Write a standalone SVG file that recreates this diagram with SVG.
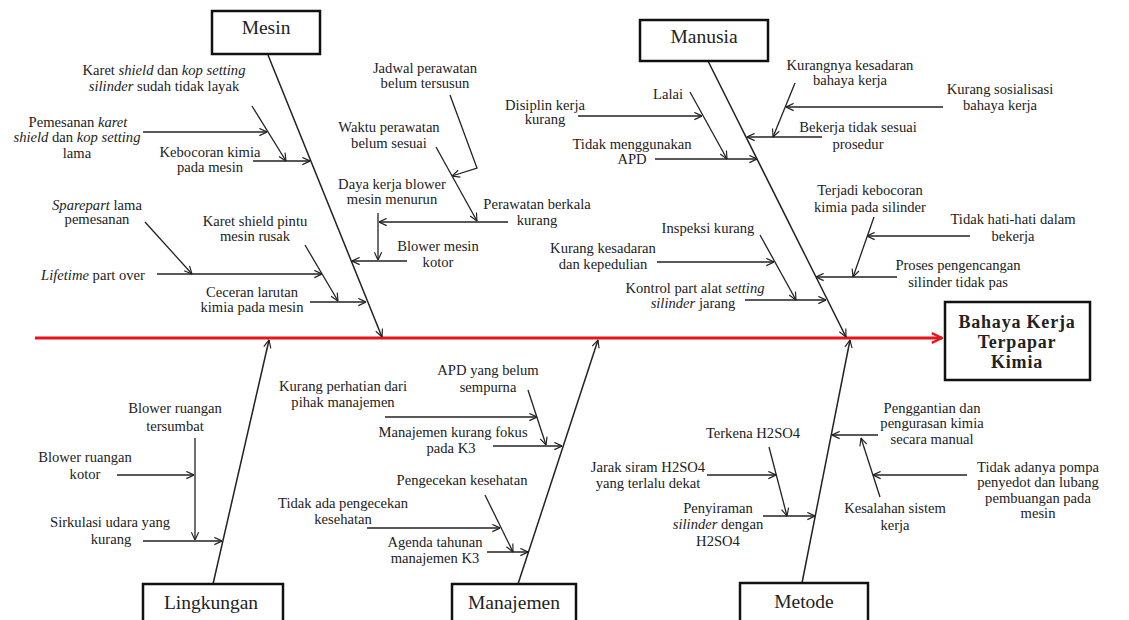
<svg xmlns="http://www.w3.org/2000/svg" width="1129" height="620" viewBox="0 0 1129 620">
<style>
text{font-family:"Liberation Serif","Times New Roman",serif;font-size:14.6px;fill:#222;text-anchor:middle}
.t{font-size:19.5px}
.e{font-size:18px;font-weight:bold;letter-spacing:0.8px}
.box{fill:#fff;stroke:#111;stroke-width:2.5}
.ln{fill:none;stroke:#222;stroke-width:1.3}
.bone{fill:none;stroke:#222;stroke-width:1.5}
</style>
<defs>
<marker id="a" viewBox="0 0 10 10" refX="9.5" refY="5" markerWidth="9" markerHeight="9" markerUnits="userSpaceOnUse" orient="auto"><path d="M1,1 L9.5,5 L1,9" fill="none" stroke="#222" stroke-width="1.3"/></marker>
<marker id="r" viewBox="0 0 10 10" refX="9.5" refY="5" markerWidth="12" markerHeight="12" markerUnits="userSpaceOnUse" orient="auto"><path d="M1,1 L9.5,5 L1,9" fill="none" stroke="#e8141c" stroke-width="2"/></marker>
</defs>
<rect width="1129" height="620" fill="#fff"/>

<g id="connectors">
<line x1="35" y1="338" x2="942" y2="338" stroke="#e8141c" stroke-width="2.8" marker-end="url(#r)"/>
<line class="bone" x1="268" y1="55" x2="382" y2="337" marker-end="url(#a)"/>
<line class="bone" x1="708" y1="61" x2="846" y2="337" marker-end="url(#a)"/>
<line class="bone" x1="213" y1="584" x2="269" y2="340" marker-end="url(#a)"/>
<line class="bone" x1="518" y1="584" x2="598" y2="340" marker-end="url(#a)"/>
<line class="bone" x1="802" y1="583" x2="850" y2="340" marker-end="url(#a)"/>
<line class="ln" x1="252" y1="106" x2="286" y2="161" marker-end="url(#a)"/>
<line class="ln" x1="143" y1="132" x2="267" y2="132" marker-end="url(#a)"/>
<line class="ln" x1="253" y1="161" x2="310" y2="161" marker-end="url(#a)"/>
<polyline class="ln" points="450,95 477,168 452,176" marker-end="url(#a)"/>
<line class="ln" x1="436" y1="147" x2="477" y2="221" marker-end="url(#a)"/>
<line class="ln" x1="508" y1="222" x2="379" y2="222" marker-end="url(#a)"/>
<line class="ln" x1="378" y1="213" x2="378" y2="260" marker-end="url(#a)"/>
<line class="ln" x1="407" y1="261" x2="352" y2="261" marker-end="url(#a)"/>
<line class="ln" x1="145" y1="222" x2="192" y2="274" marker-end="url(#a)"/>
<line class="ln" x1="157" y1="274" x2="322" y2="274" marker-end="url(#a)"/>
<line class="ln" x1="305" y1="245" x2="338" y2="301" marker-end="url(#a)"/>
<line class="ln" x1="310" y1="302" x2="366" y2="302" marker-end="url(#a)"/>
<line class="ln" x1="690" y1="92" x2="727" y2="159" marker-end="url(#a)"/>
<line class="ln" x1="578" y1="116" x2="702" y2="116" marker-end="url(#a)"/>
<line class="ln" x1="655" y1="159" x2="757" y2="159" marker-end="url(#a)"/>
<line class="ln" x1="795" y1="83" x2="773" y2="137" marker-end="url(#a)"/>
<line class="ln" x1="943" y1="107" x2="786" y2="107" marker-end="url(#a)"/>
<line class="ln" x1="822" y1="137" x2="747" y2="137" marker-end="url(#a)"/>
<line class="ln" x1="760" y1="235" x2="796" y2="300" marker-end="url(#a)"/>
<line class="ln" x1="657" y1="262" x2="774" y2="262" marker-end="url(#a)"/>
<line class="ln" x1="745" y1="300" x2="826" y2="300" marker-end="url(#a)"/>
<line class="ln" x1="874" y1="217" x2="853" y2="277" marker-end="url(#a)"/>
<line class="ln" x1="970" y1="236" x2="867" y2="236" marker-end="url(#a)"/>
<line class="ln" x1="897" y1="277" x2="816" y2="277" marker-end="url(#a)"/>
<line class="ln" x1="195" y1="438" x2="195" y2="540" marker-end="url(#a)"/>
<line class="ln" x1="117" y1="475" x2="194" y2="475" marker-end="url(#a)"/>
<line class="ln" x1="143" y1="541" x2="222" y2="541" marker-end="url(#a)"/>
<line class="ln" x1="528" y1="390" x2="546" y2="445" marker-end="url(#a)"/>
<line class="ln" x1="385" y1="417" x2="537" y2="417" marker-end="url(#a)"/>
<line class="ln" x1="493" y1="446" x2="562" y2="446" marker-end="url(#a)"/>
<line class="ln" x1="485" y1="495" x2="513" y2="552" marker-end="url(#a)"/>
<line class="ln" x1="367" y1="528" x2="500" y2="528" marker-end="url(#a)"/>
<line class="ln" x1="487" y1="552" x2="528" y2="552" marker-end="url(#a)"/>
<line class="ln" x1="769" y1="447" x2="787" y2="516" marker-end="url(#a)"/>
<line class="ln" x1="707" y1="475" x2="776" y2="475" marker-end="url(#a)"/>
<line class="ln" x1="763" y1="516" x2="815" y2="516" marker-end="url(#a)"/>
<line class="ln" x1="878" y1="435" x2="832" y2="435" marker-end="url(#a)"/>
<line class="ln" x1="880" y1="497" x2="861" y2="438" marker-end="url(#a)"/>
<line class="ln" x1="967" y1="475" x2="873" y2="475" marker-end="url(#a)"/>
</g>

<g id="effect"><rect class="box" x="945" y="302" width="145" height="78"/>
<text class="e" x="1017" y="328">Bahaya Kerja</text><text class="e" x="1017" y="348">Terpapar</text><text class="e" x="1017" y="368">Kimia</text></g>
<g id="mesin"><rect class="box" x="212" y="11" width="108" height="43"/><text class="t" x="266" y="34">Mesin</text></g>
<g id="manusia"><rect class="box" x="640" y="20" width="128" height="41"/><text class="t" x="704" y="43">Manusia</text></g>
<g id="lingkungan"><rect class="box" x="143" y="584" width="140" height="42"/><text class="t" x="211" y="609">Lingkungan</text></g>
<g id="manajemen"><rect class="box" x="452" y="584" width="124" height="42"/><text class="t" x="514" y="609">Manajemen</text></g>
<g id="metode"><rect class="box" x="740" y="583" width="128" height="43"/><text class="t" x="804" y="608">Metode</text></g>

<g id="mesin-causes">
<text x="164" y="75">Karet <tspan font-style="italic">shield</tspan> dan <tspan font-style="italic">kop setting</tspan></text>
<text x="164" y="91"><tspan font-style="italic">silinder</tspan> sudah tidak layak</text>
<text x="78" y="127">Pemesanan <tspan font-style="italic">karet</tspan></text>
<text x="77" y="142"><tspan font-style="italic">shield</tspan> dan <tspan font-style="italic">kop setting</tspan></text>
<text x="77" y="158">lama</text>
<text x="210" y="157">Kebocoran kimia</text><text x="210" y="172">pada mesin</text>
<text x="425" y="73">Jadwal perawatan</text><text x="425" y="88">belum tersusun</text>
<text x="389" y="132">Waktu perawatan</text><text x="389" y="148">belum sesuai</text>
<text x="392" y="189">Daya kerja blower</text><text x="392" y="204">mesin menurun</text>
<text x="537" y="209">Perawatan berkala</text><text x="537" y="225">kurang</text>
<text x="438" y="251">Blower mesin</text><text x="438" y="267">kotor</text>
<text x="97" y="210"><tspan font-style="italic">Sparepart</tspan> lama</text><text x="97" y="224">pemesanan</text>
<text x="93" y="280"><tspan font-style="italic">Lifetime</tspan> part over</text>
<text x="255" y="226">Karet shield pintu</text><text x="255" y="241">mesin rusak</text>
<text x="252" y="297">Ceceran larutan</text><text x="252" y="312">kimia pada mesin</text>
</g>
<g id="manusia-causes">
<text x="668" y="99">Lalai</text>
<text x="545" y="110">Disiplin kerja</text><text x="545" y="124">kurang</text>
<text x="632" y="149">Tidak menggunakan</text><text x="632" y="164">APD</text>
<text x="850" y="70">Kurangnya kesadaran</text><text x="850" y="85">bahaya kerja</text>
<text x="1000" y="94">Kurang sosialisasi</text><text x="1000" y="110">bahaya kerja</text>
<text x="858" y="132">Bekerja tidak sesuai</text><text x="858" y="149">prosedur</text>
<text x="708" y="233">Inspeksi kurang</text>
<text x="603" y="253">Kurang kesadaran</text><text x="603" y="269">dan kepedulian</text>
<text x="695" y="293">Kontrol part alat <tspan font-style="italic">setting</tspan></text><text x="693" y="308"><tspan font-style="italic">silinder</tspan> jarang</text>
<text x="870" y="195">Terjadi kebocoran</text><text x="870" y="212">kimia pada silinder</text>
<text x="1013" y="224">Tidak hati-hati dalam</text><text x="1013" y="241">bekerja</text>
<text x="958" y="270">Proses pengencangan</text><text x="958" y="287">silinder tidak pas</text>
</g>
<g id="lingkungan-causes">
<text x="175" y="413">Blower ruangan</text><text x="175" y="431">tersumbat</text>
<text x="85" y="462">Blower ruangan</text><text x="85" y="479">kotor</text>
<text x="110" y="527">Sirkulasi udara yang</text><text x="111" y="544">kurang</text>
</g>
<g id="manajemen-causes">
<text x="488" y="375">APD yang belum</text><text x="488" y="392">sempurna</text>
<text x="343" y="391">Kurang perhatian dari</text><text x="343" y="407">pihak manajemen</text>
<text x="453" y="437">Manajemen kurang fokus</text><text x="451" y="453">pada K3</text>
<text x="462" y="485">Pengecekan kesehatan</text>
<text x="343" y="508">Tidak ada pengecekan</text><text x="343" y="524">kesehatan</text>
<text x="435" y="547">Agenda tahunan</text><text x="435" y="563">manajemen K3</text>
</g>
<g id="metode-causes">
<text x="753" y="438">Terkena H2SO4</text>
<text x="648" y="472">Jarak siram H2SO4</text><text x="648" y="488">yang terlalu dekat</text>
<text x="718" y="513">Penyiraman</text><text x="718" y="529"><tspan font-style="italic">silinder</tspan> dengan</text><text x="718" y="546">H2SO4</text>
<text x="932" y="413">Penggantian dan</text><text x="932" y="428">pengurasan kimia</text><text x="932" y="444">secara manual</text>
<text x="895" y="513">Kesalahan sistem</text><text x="895" y="530">kerja</text>
<text x="1038" y="472">Tidak adanya pompa</text><text x="1038" y="487">penyedot dan lubang</text><text x="1038" y="503">pembuangan pada</text><text x="1038" y="518">mesin</text>
</g>
</svg>
